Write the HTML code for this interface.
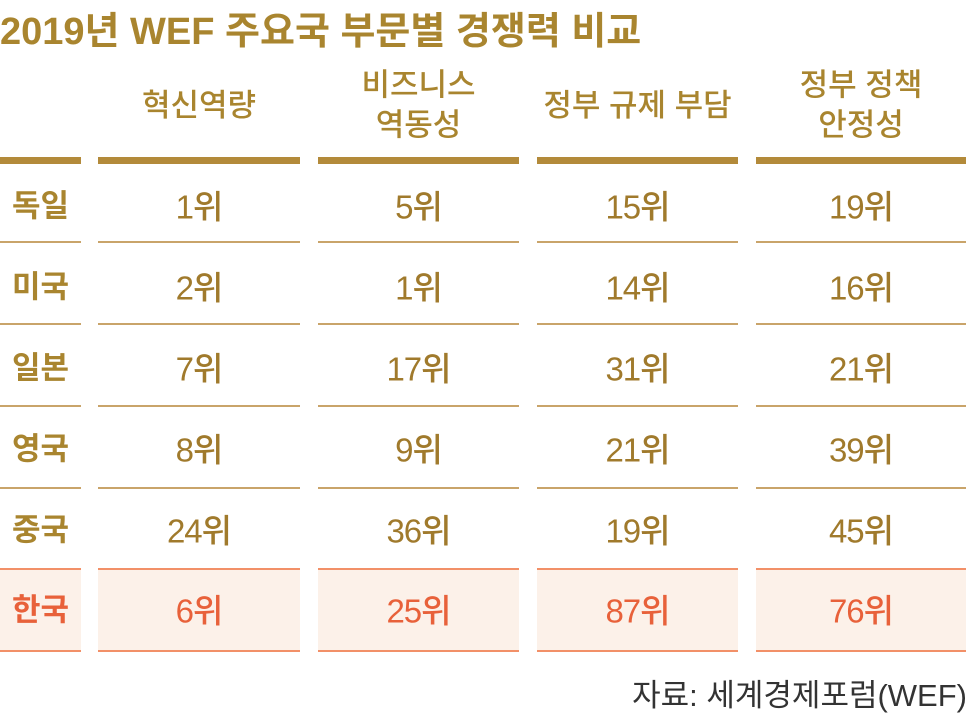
<!DOCTYPE html>
<html><head><meta charset="utf-8"><style>
body{margin:0;width:975px;height:727px;background:#fff;position:relative;overflow:hidden;font-family:"Liberation Sans","Noto Sans CJK KR",sans-serif}
.a{position:absolute}
.t{position:absolute;text-align:center;transform:translateY(-50%);line-height:1.25}
.thick{position:absolute;height:7px;background:#b38a3a;top:157px}
.thin{position:absolute;height:2px;background:#c9a46a}
.hl{position:absolute;background:#fcf1e9;top:569px;height:83px}
.ol{position:absolute;height:2px;background:#f29068}
</style></head><body>
<div class="a" style="left:0;top:0px;font-size:38px;font-weight:bold;color:#a9852f;letter-spacing:0px">2019년 WEF 주요국 부문별 경쟁력 비교</div>
<div id="tbl"></div>
<div class="a" style="right:8px;top:670px;font-size:31px;color:#333">자료: 세계경제포럼(WEF)</div>
<script>
const headers=["혁신역량","비즈니스<br>역동성","정부 규제 부담","정부 정책<br>안정성"];
const countries=["독일","미국","일본","영국","중국","한국"];
const innovation=[1,2,7,8,24,6];
const dynamism=[5,1,17,9,36,25];
const regulation=[15,14,31,21,19,87];
const policy=[19,16,21,39,45,76];
const cols=[[0,81],[98,300],[318,519],[537,738],[756,966]];
const rowCenters=[207,288,369,450,531,611];
const lineYs=[241,323,405,487];
const t=document.getElementById('tbl');
function add(cls,style,html){const d=document.createElement('div');d.className=cls;d.setAttribute('style',style);if(html!==undefined)d.innerHTML=html;t.appendChild(d);return d;}
cols.forEach((c,i)=>{
  const w=c[1]-c[0];
  const h=add('hl',`left:${c[0]}px;width:${w}px`);
  
  
  const k=add('thick',`left:${c[0]}px;width:${w}px`);
  
  
  lineYs.forEach(y=>{const l=add('thin',`left:${c[0]}px;width:${w}px;top:${y}px`);
    
    });
  [568,650].forEach(y=>{const l=add('ol',`left:${c[0]}px;width:${w}px;top:${y}px`);
    
    });
  if(i>0){const hd=add('t',`left:${c[0]}px;width:${w}px;top:106px;font-size:31px;font-weight:500;color:#a9852f;line-height:1.3`,headers[i-1]);
    
    }
});
const series=[innovation,dynamism,regulation,policy];
countries.forEach((name,r)=>{
  const kr=r===5;
  const col=kr?'#e8613a':'#a9852f';
  const n=add('t',`left:${cols[0][0]}px;width:${cols[0][1]-cols[0][0]}px;top:${rowCenters[r]}px;font-size:31px;font-weight:bold;color:${col}`,name);
  
  
  series.forEach((s,j)=>{const c=cols[j+1];
    const v=add('t',`left:${c[0]}px;width:${c[1]-c[0]}px;top:${rowCenters[r]}px;font-size:33px;font-weight:500;color:${kr?'#e8613a':'#a07a2c'};letter-spacing:-1px`,s[r]+'위');
    
    });
});
</script>
</body></html>
